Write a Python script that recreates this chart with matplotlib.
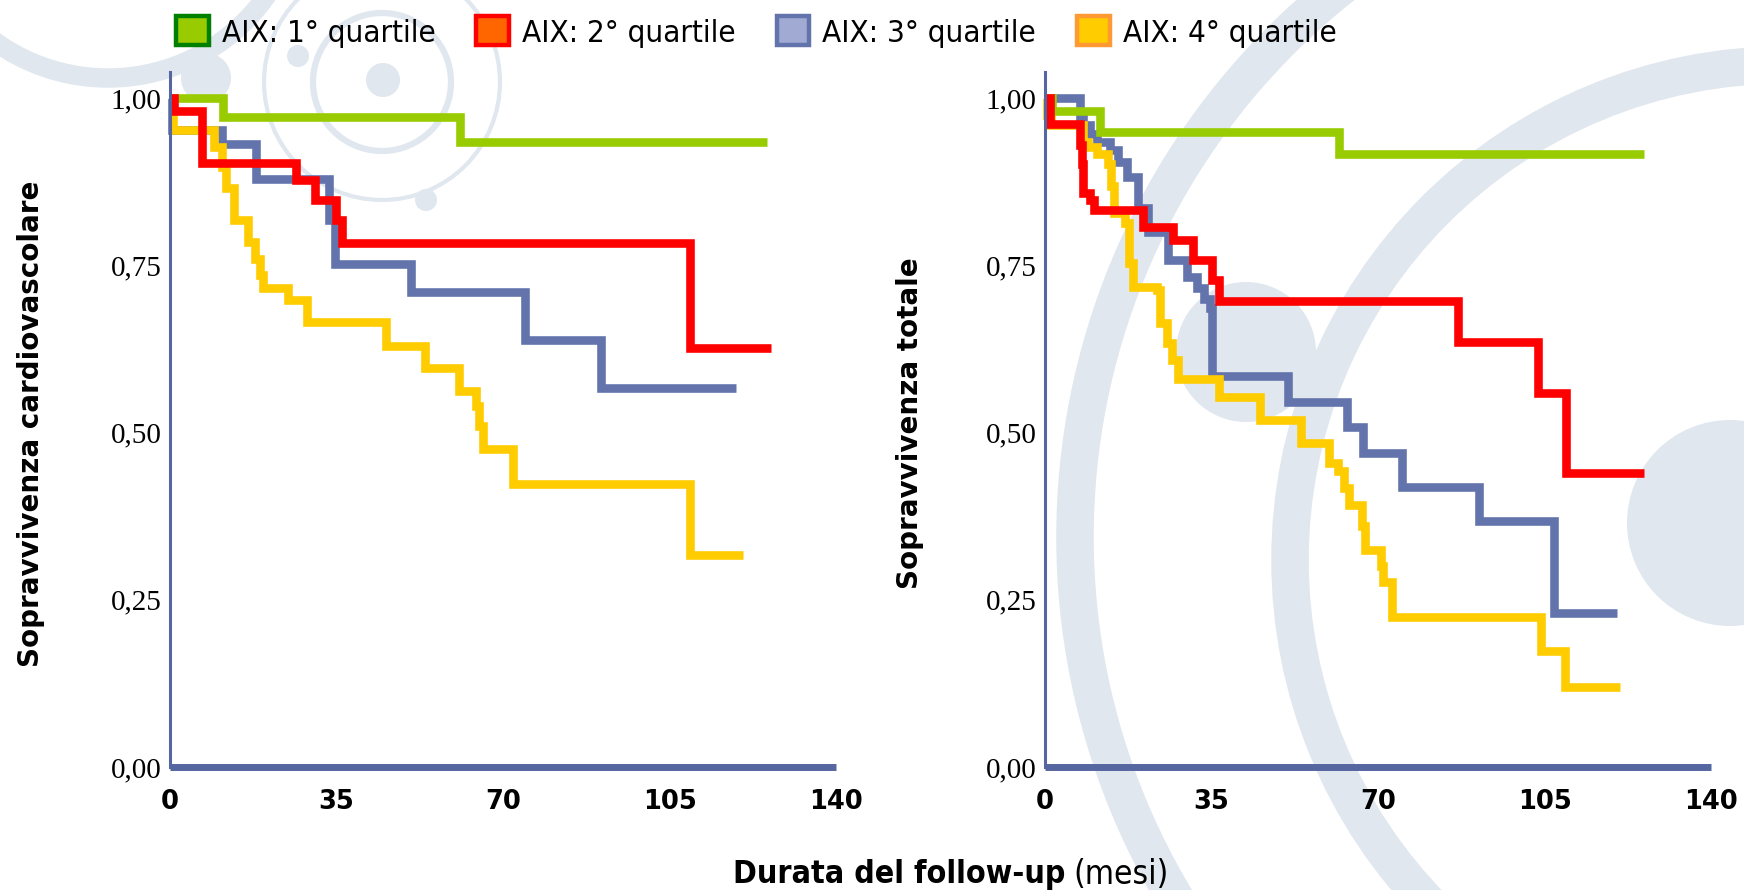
import matplotlib
matplotlib.use('Agg')
import matplotlib.pyplot as plt
from matplotlib.patches import Circle, Patch
from matplotlib.font_manager import FontProperties, fontManager

# ---- data (months, survival) ----
# left panel: sopravvivenza cardiovascolare
cv_q1_t = [0, 11.1, 61.0, 125.5]
cv_q1_s = [1.00, 0.971, 0.934, 0.934]

cv_q2_t = [0, 0.8, 6.7, 26.5, 30.5, 34.8, 36.2, 109.3, 126.3]
cv_q2_s = [1.00, 0.980, 0.903, 0.877, 0.848, 0.818, 0.783, 0.627, 0.627]

cv_q3_t = [0, 0.5, 11.0, 18.0, 33.4, 34.6, 50.6, 74.6, 90.5, 119.0]
cv_q3_s = [1.00, 0.953, 0.932, 0.879, 0.818, 0.752, 0.710, 0.639, 0.567, 0.567]

cv_q4_t = [0, 0.7, 9.3, 11.0, 11.8, 13.4, 16.4, 17.8, 18.9, 19.6, 24.9, 28.7,
           45.4, 53.6, 60.7, 64.4, 65.0, 65.9, 72.2, 109.3, 120.4]
cv_q4_s = [1.00, 0.952, 0.927, 0.897, 0.866, 0.818, 0.785, 0.760, 0.735, 0.716, 0.698, 0.666,
           0.629, 0.597, 0.562, 0.540, 0.510, 0.475, 0.423, 0.317, 0.317]

# right panel: sopravvivenza totale
tot_q1_t = [0, 1.5, 11.5, 61.7, 126.0]
tot_q1_s = [1.00, 0.981, 0.949, 0.917, 0.917]

tot_q2_t = [0, 1.0, 7.4, 7.7, 8.0, 9.5, 10.2, 20.7, 27.0, 31.2, 35.0, 36.6,
            86.9, 103.7, 109.5, 126.0]
tot_q2_s = [1.00, 0.962, 0.930, 0.902, 0.858, 0.848, 0.833, 0.808, 0.788, 0.758, 0.728, 0.696,
            0.636, 0.559, 0.439, 0.439]

tot_q3_t = [0, 7.3, 8.0, 9.5, 10.9, 13.6, 15.4, 17.3, 19.5, 21.7, 25.9, 29.8, 31.9, 33.4,
            34.6, 35.0, 51.0, 63.5, 66.8, 75.0, 91.3, 107.0, 120.2]
tot_q3_s = [1.00, 0.972, 0.960, 0.947, 0.935, 0.922, 0.905, 0.882, 0.835, 0.800, 0.758, 0.733,
            0.716, 0.700, 0.686, 0.585, 0.546, 0.508, 0.469, 0.419, 0.368, 0.230, 0.230]

tot_q4_t = [0, 0.4, 1.3, 7.9, 9.1, 10.9, 13.3, 13.9, 14.5, 16.8, 17.6, 18.4, 23.5, 24.2,
            25.6, 26.6, 28.0, 36.5, 45.3, 53.8, 59.8, 61.5, 62.8, 64.0, 66.6, 67.2, 70.6,
            71.0, 73.0, 104.3, 109.3, 120.8]
tot_q4_s = [1.00, 0.975, 0.960, 0.935, 0.927, 0.917, 0.902, 0.868, 0.828, 0.813, 0.753, 0.718,
            0.713, 0.664, 0.634, 0.609, 0.580, 0.553, 0.519, 0.485, 0.455, 0.442, 0.417, 0.392,
            0.360, 0.325, 0.300, 0.276, 0.224, 0.174, 0.119, 0.119]

legend_labels = ['AIX: 1° quartile', 'AIX: 2° quartile', 'AIX: 3° quartile', 'AIX: 4° quartile']
x_ticks = [0, 35, 70, 105, 140]
y_ticks = [0, 0.25, 0.50, 0.75, 1.00]
y_tick_labels = ['0,00', '0,25', '0,50', '0,75', '1,00']

line_colors = ['#99cc00', '#ff0000', '#6374ad', '#ffcc00']
face_colors = ['#99cc00', '#ff6600', '#a0aad2', '#ffcc00']
edge_colors = ['#008000', '#ff0000', '#6374ad', '#ff9933']
axis_color = '#5566a0'
deco = '#e0e7ef'

# condensed face if the system has it, else plain DejaVu at smaller size
has_cond = any('Condensed' in f.fname and 'DejaVu' in f.fname for f in fontManager.ttflist)
if has_cond:
    leg_font = FontProperties(family='DejaVu Sans', stretch='condensed', size=22.5)
    xl_bold = FontProperties(family='DejaVu Sans', stretch='condensed', weight='bold', size=23)
    xl_reg = FontProperties(family='DejaVu Sans', stretch='condensed', size=24)
else:
    leg_font = FontProperties(family='DejaVu Sans', size=20)
    xl_bold = FontProperties(family='DejaVu Sans', weight='bold', size=20)
    xl_reg = FontProperties(family='DejaVu Sans', size=20)

W, H = 1744, 890
fig = plt.figure(figsize=(W / 100, H / 100), dpi=100)

# background watermark
bg = fig.add_axes([0, 0, 1, 1], zorder=-1)
bg.set_xlim(0, W)
bg.set_ylim(H, 0)
bg.axis('off')
bg.add_patch(Circle((1777, 537), 702, fill=False, lw=27, ec=deco))
bg.add_patch(Circle((1785, 560), 495, fill=False, lw=27, ec=deco))
bg.add_patch(Circle((1730, 523), 103, fc=deco, ec='none'))
bg.add_patch(Circle((1246, 352), 70, fc=deco, ec='none'))
bg.add_patch(Circle((108, -116), 194, fill=False, lw=14, ec=deco))
bg.add_patch(Circle((382, 82), 118, fill=False, lw=3, ec=deco))
bg.add_patch(Circle((382, 82), 69, fill=False, lw=4.5, ec=deco))
bg.add_patch(Circle((383, 80), 17, fc=deco, ec='none'))
bg.add_patch(Circle((206, 78), 25, fc=deco, ec='none'))
bg.add_patch(Circle((298, 56), 11, fc=deco, ec='none'))
bg.add_patch(Circle((426, 200), 11, fc=deco, ec='none'))

panels = [
    ([cv_q1_t, cv_q2_t, cv_q3_t, cv_q4_t], [cv_q1_s, cv_q2_s, cv_q3_s, cv_q4_s], 170),
    ([tot_q1_t, tot_q2_t, tot_q3_t, tot_q4_t], [tot_q1_s, tot_q2_s, tot_q3_s, tot_q4_s], 1045),
]
draw_order = [2, 3, 0, 1]

for times, surv, x0 in panels:
    ax = fig.add_axes([x0 / W, 1 - 767 / H, 666 / W, (767 - 72) / H])
    ax.set_facecolor('none')
    for i in draw_order:
        ax.step(times[i], surv[i], where='post', color=line_colors[i], lw=6.2,
                solid_joinstyle='miter', solid_capstyle='butt', clip_on=False)
    ax.set_xlim(0, 140)
    ax.set_ylim(0, 1.039)
    ax.set_xticks(x_ticks)
    ax.set_yticks(y_ticks)
    ax.set_yticklabels(y_tick_labels, fontfamily='Liberation Serif', fontsize=21)
    ax.set_xticklabels([str(v) for v in x_ticks], fontfamily='DejaVu Sans',
                       fontweight='bold', fontsize=18.5)
    ax.tick_params(axis='both', length=0)
    ax.tick_params(axis='y', pad=6)
    ax.tick_params(axis='x', pad=16)
    for s in ['top', 'right']:
        ax.spines[s].set_visible(False)
    ax.spines['left'].set_color(axis_color)
    ax.spines['left'].set_linewidth(2.2)
    ax.spines['bottom'].set_color(axis_color)
    ax.spines['bottom'].set_linewidth(5)
    ax.spines['bottom'].set_capstyle('butt')

fig.text(31 / W, 1 - 424 / H, 'Sopravvivenza cardiovascolare', rotation=90,
         ha='center', va='center', fontsize=20, fontweight='bold', family='DejaVu Sans')
fig.text(910 / W, 1 - 423 / H, 'Sopravvivenza totale', rotation=90,
         ha='center', va='center', fontsize=20, fontweight='bold', family='DejaVu Sans')

# x label: bold part + regular part
t1 = fig.text(733 / W, 1 - 874 / H, 'Durata del follow-up', ha='left', va='center',
              fontproperties=xl_bold)
fig.canvas.draw()
bb = t1.get_window_extent(renderer=fig.canvas.get_renderer())
fig.text((bb.x1 + 8) / W, 1 - 874 / H, '(mesi)', ha='left', va='center',
         fontproperties=xl_reg)

handles = [Patch(facecolor=face_colors[i], edgecolor=edge_colors[i], lw=3.2)
           for i in range(4)]
fig.legend(handles, legend_labels, loc='center left', bbox_to_anchor=(176 / W, 1 - 32 / H),
           ncol=4, frameon=False, borderpad=0, borderaxespad=0, prop=leg_font,
           handlelength=1.05, handleheight=1.05, handletextpad=0.42, columnspacing=1.3)

fig.savefig('out.png', dpi=100, facecolor='white')
